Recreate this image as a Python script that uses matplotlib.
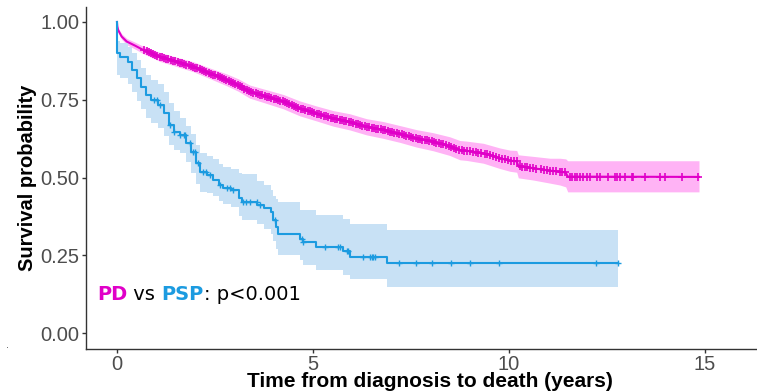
import numpy as np
import matplotlib
matplotlib.use("Agg")
import matplotlib.pyplot as plt

# colours of the two groups
pd_col = '#E000C8'
psp_col = '#1C9BE0'
pd_fill = '#FFB3F5'
psp_fill = '#C8E1F5'

# PD curve (survival probability vs years)
pd_time = [0, 0.01, 0.03, 0.12, 0.25, 0.46, 0.67, 1.1, 1.52, 1.95, 2.37, 2.8, 3.1, 3.39, 3.82,
           4.24, 4.67, 5.09, 5.52, 5.94, 6.37, 6.79, 7.22, 7.64, 8.07, 8.49, 8.75, 8.92, 9.35,
           9.77, 10.03, 10.2, 10.24, 10.62, 11.05, 11.3, 11.45, 11.5, 14.85]
pd_surv = [1.0, 0.985, 0.974, 0.953, 0.937, 0.924, 0.91, 0.888, 0.872, 0.856, 0.835, 0.814, 0.797,
           0.776, 0.76, 0.744, 0.722, 0.706, 0.69, 0.679, 0.663, 0.653, 0.64, 0.626, 0.615, 0.601,
           0.588, 0.586, 0.578, 0.562, 0.554, 0.552, 0.537, 0.53, 0.522, 0.519, 0.516, 0.503, 0.502]
pd_upper = [1.0, 0.991, 0.981, 0.962, 0.947, 0.935, 0.922, 0.902, 0.887, 0.872, 0.852, 0.833, 0.817,
            0.797, 0.782, 0.767, 0.746, 0.730, 0.715, 0.705, 0.689, 0.680, 0.667, 0.654, 0.644, 0.631,
            0.619, 0.617, 0.610, 0.595, 0.588, 0.587, 0.573, 0.568, 0.562, 0.562, 0.560, 0.554, 0.554]
pd_lower = [1.0, 0.979, 0.967, 0.944, 0.927, 0.913, 0.898, 0.873, 0.857, 0.840, 0.818, 0.795, 0.777,
            0.755, 0.738, 0.721, 0.698, 0.682, 0.665, 0.653, 0.637, 0.626, 0.613, 0.598, 0.586, 0.571,
            0.557, 0.555, 0.546, 0.529, 0.520, 0.517, 0.499, 0.492, 0.482, 0.476, 0.470, 0.454, 0.454]
pd_censor = [0.70, 0.76, 0.81, 0.87, 0.92, 0.98, 1.03, 1.09, 1.15, 1.2, 1.26, 1.31, 1.37, 1.42, 1.48,
             1.55, 1.6, 1.66, 1.71, 1.77, 1.83, 1.88, 1.94, 2.0, 2.05, 2.11, 2.17, 2.22, 2.28, 2.34,
             2.39, 2.45, 2.51, 2.57, 2.62, 2.68, 2.74, 2.79, 2.85, 2.91, 2.97, 3.02, 3.08, 3.14, 3.19,
             3.25, 3.31, 3.37, 3.42, 3.48, 3.54, 3.6, 3.65, 3.71, 3.77, 3.83, 3.88, 3.94, 4.0, 4.06,
             4.11, 4.17, 4.23, 4.29, 4.35, 4.4, 4.46, 4.52, 4.58, 4.63, 4.69, 4.75, 4.81, 4.87, 4.92,
             4.98, 5.04, 5.1, 5.16, 5.21, 5.27, 5.33, 5.39, 5.45, 5.5, 5.56, 5.62, 5.68, 5.74, 5.8,
             5.85, 5.91, 5.97, 6.03, 6.09, 6.15, 6.2, 6.26, 6.32, 6.38, 6.44, 6.5, 6.56, 6.61, 6.67,
             6.73, 6.79, 6.85, 6.91, 6.97, 7.03, 7.08, 7.14, 7.2, 7.26, 7.32, 7.38, 7.44, 7.5, 7.56,
             7.62, 7.68, 7.73, 7.79, 7.85, 7.91, 7.97, 8.03, 8.09, 8.15, 8.21, 8.27, 8.33, 8.4, 8.46,
             8.52, 8.6, 8.66, 8.72, 8.8, 8.86, 8.93, 9.0, 9.08, 9.15, 9.22, 9.3, 9.38, 9.45, 9.52,
             9.6, 9.68, 9.75, 9.82, 9.9, 9.98, 10.05, 10.12, 10.2, 10.28, 10.34, 10.4, 10.47, 10.54,
             10.62, 10.7, 10.82, 10.9, 10.97, 11.05, 11.12, 11.2, 11.3, 11.36, 11.42,
             11.56, 11.62, 11.68, 11.75, 11.82, 11.9, 11.98, 12.07, 12.24, 12.32, 12.54, 12.7, 12.75,
             12.83, 12.96, 13.15, 13.17, 13.48, 13.85, 13.98, 14.42, 14.83]

# PSP curve (step function) with its confidence band at the same steps
psp_time = [0, 0.01, 0.08, 0.28, 0.38, 0.5, 0.62, 0.74, 0.86, 1.05, 1.2, 1.32, 1.45, 1.6, 1.75, 1.9,
            2.02, 2.12, 2.3, 2.45, 2.6, 2.7, 2.9, 3.12, 3.18, 3.58, 3.75, 3.92, 3.99, 4.07, 4.11,
            4.67, 4.75, 5.09, 5.77, 5.94, 6.88, 12.79]
psp_surv = [1.0, 0.899, 0.888, 0.872, 0.846, 0.82, 0.792, 0.765, 0.749, 0.733, 0.707, 0.669, 0.647,
            0.637, 0.61, 0.583, 0.546, 0.519, 0.508, 0.492, 0.476, 0.466, 0.46, 0.434, 0.422, 0.412,
            0.402, 0.39, 0.363, 0.342, 0.318, 0.304, 0.292, 0.278, 0.265, 0.245, 0.224, 0.224]
psp_upper = [1.0, 0.94, 0.932, 0.92, 0.90, 0.878, 0.852, 0.828, 0.813, 0.80, 0.776, 0.74, 0.715,
             0.69, 0.665, 0.64, 0.605, 0.58, 0.57, 0.56, 0.545, 0.535, 0.528, 0.515, 0.51, 0.49,
             0.475, 0.46, 0.44, 0.43, 0.42, 0.395, 0.395, 0.379, 0.367, 0.35, 0.333, 0.333]
psp_lower = [1.0, 0.83, 0.82, 0.80, 0.775, 0.745, 0.72, 0.69, 0.675, 0.66, 0.635, 0.605, 0.59,
             0.58, 0.55, 0.515, 0.48, 0.455, 0.45, 0.44, 0.425, 0.415, 0.405, 0.375, 0.365, 0.35,
             0.335, 0.32, 0.295, 0.27, 0.25, 0.235, 0.219, 0.203, 0.187, 0.174, 0.148, 0.148]
psp_censor = [0.95, 1.02, 1.1, 1.35, 1.45, 1.6, 1.7, 1.73, 1.86, 1.94, 1.99, 2.07, 2.2, 2.28, 2.37,
              2.63, 2.8, 2.88, 2.96, 3.22, 3.3, 3.39, 3.57, 3.65, 4.03, 4.72, 4.75, 5.31, 5.64, 5.69,
              5.87, 5.9, 6.28, 6.45, 6.5, 6.54, 6.58, 7.2, 7.64, 8.04, 8.52, 9.02, 9.75, 12.22, 12.79]

x_ticks = [0, 5, 10, 15]
y_ticks = [0.00, 0.25, 0.50, 0.75, 1.00]
y_tick_labels = ['0.00', '0.25', '0.50', '0.75', '1.00']

fig = plt.figure(figsize=(7.57, 3.92), dpi=100)
ax = fig.add_axes([0.1136, 0.1097, 0.8864, 0.8724])

# confidence bands first
ax.fill_between(pd_time, pd_lower, pd_upper, color=pd_fill, lw=0)
ax.fill_between(psp_time, psp_lower, psp_upper, step='post', color=psp_fill, lw=0)

# curves
ax.plot(pd_time, pd_surv, color=pd_col, lw=1.5)
ax.step(psp_time, psp_surv, where='post', color=psp_col, lw=1.5)

# censor marks
pd_cy = np.interp(pd_censor, pd_time, pd_surv)
ax.plot(pd_censor, pd_cy, ls='none', marker='+', ms=6, mew=1.2, color=pd_col)
idx = np.searchsorted(psp_time, psp_censor, side='right') - 1
psp_cy = np.array(psp_surv)[idx]
ax.plot(psp_censor, psp_cy, ls='none', marker='+', ms=4.5, mew=1.0, color=psp_col)

ax.set_xlim(-0.79, 16.33)
ax.set_ylim(-0.051, 1.048)
ax.set_xticks(x_ticks)
ax.set_yticks(y_ticks)
ax.set_yticklabels(y_tick_labels)

for s in ['top', 'right']:
    ax.spines[s].set_visible(False)
for s in ['left', 'bottom']:
    ax.spines[s].set_color('#333333')
    ax.spines[s].set_linewidth(1.0)
ax.tick_params(length=3, width=1.0, color='#333333', labelcolor='#4D4D4D',
               labelsize=14.5, pad=1.5)
for lab in ax.get_xticklabels() + ax.get_yticklabels():
    lab.set_family('Liberation Sans')

ax.set_xlabel('Time from diagnosis to death (years)', fontsize=15, fontweight='bold',
              family='Liberation Sans')
ax.set_ylabel('Survival probability', fontsize=14.5, fontweight='bold', family='Liberation Sans')
ax.xaxis.set_label_coords(0.513, -0.066)
ax.yaxis.set_label_coords(-0.073, 0.5)

# p-value annotation, pieces chained one after another
t1 = ax.text(-0.51, 0.106, 'PD', color=pd_col, fontsize=14, fontweight='bold', va='baseline')
t2 = ax.annotate(' vs ', xy=(1, 0), xycoords=t1, va='bottom', fontsize=14, color='black')
t3 = ax.annotate('PSP', xy=(1, 0), xycoords=t2, va='bottom', fontsize=14, fontweight='bold',
                 color=psp_col)
t4 = ax.annotate(': p<0.001', xy=(1, 0), xycoords=t3, va='bottom', fontsize=14, color='black')

# stray dot in the lower left corner of the original
fig.text(0.008, 0.112, '.', fontsize=7, color='#555555')

fig.savefig('out.png', dpi=100)
